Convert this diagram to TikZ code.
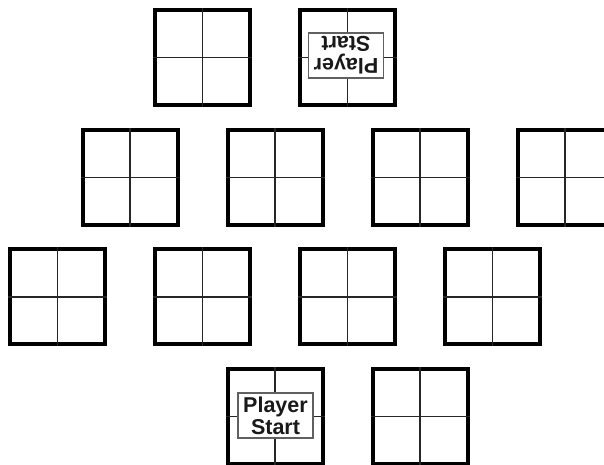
\documentclass[tikz,border=0pt]{standalone}
\usepackage{fontspec}
\setmainfont{Liberation Sans}
\usepackage{tikz}
\usetikzlibrary{positioning}
\definecolor{LabelGray}{HTML}{606060}

\begin{document}
\begin{tikzpicture}[x=1pt,y=-1pt, node distance=20.7pt and 46pt,
tile/.style={draw,line width=4pt,minimum size=95pt,inner sep=0pt},
quarter/.style={line width=1.4pt,black!85},
startlabel/.style={draw=LabelGray,fill=white,line width=1.3pt,align=center,minimum width=75pt,minimum height=45pt,inner sep=0pt,
  font=\fontsize{21.5}{22}\selectfont\bfseries,text=black!90}]
\useasboundingbox (0,0) rectangle (604,464);
% top row
\node[tile] (top1) at (202.5,57.5) {};
\node[tile,right=of top1] (top2) {};
% second row
\node[tile] (upper1) at (130,177.2) {};
\node[tile,right=of upper1] (upper2) {};
\node[tile,right=of upper2] (upper3) {};
\node[tile,right=of upper3] (upper4) {};
% third row
\node[tile] (lower1) at (57.5,296.9) {};
\node[tile,right=of lower1] (lower2) {};
\node[tile,right=of lower2] (lower3) {};
\node[tile,right=of lower3] (lower4) {};
% bottom row
\node[tile] (bottom1) at (275,416.6) {};
\node[tile,right=of bottom1] (bottom2) {};
% quarter lines
\draw[quarter] (top1.north)--(top1.south) (top1.west)--(top1.east);
\draw[quarter] (top2.north)--(top2.south) (top2.west)--(top2.east);
\draw[quarter] (upper1.north)--(upper1.south) (upper1.west)--(upper1.east);
\draw[quarter] (upper2.north)--(upper2.south) (upper2.west)--(upper2.east);
\draw[quarter] (upper3.north)--(upper3.south) (upper3.west)--(upper3.east);
\draw[quarter] (upper4.north)--(upper4.south) (upper4.west)--(upper4.east);
\draw[quarter] (lower1.north)--(lower1.south) (lower1.west)--(lower1.east);
\draw[quarter] (lower2.north)--(lower2.south) (lower2.west)--(lower2.east);
\draw[quarter] (lower3.north)--(lower3.south) (lower3.west)--(lower3.east);
\draw[quarter] (lower4.north)--(lower4.south) (lower4.west)--(lower4.east);
\draw[quarter] (bottom1.north)--(bottom1.south) (bottom1.west)--(bottom1.east);
\draw[quarter] (bottom2.north)--(bottom2.south) (bottom2.west)--(bottom2.east);
% start labels
\node[startlabel] (startA) at ([shift={(0.5,-1)}]bottom1.center) {Player\\Start};
\node[startlabel,rotate=180] (startB) at ([shift={(-1.5,-2)}]top2.center) {Player\\Start};
\end{tikzpicture}
\end{document}
